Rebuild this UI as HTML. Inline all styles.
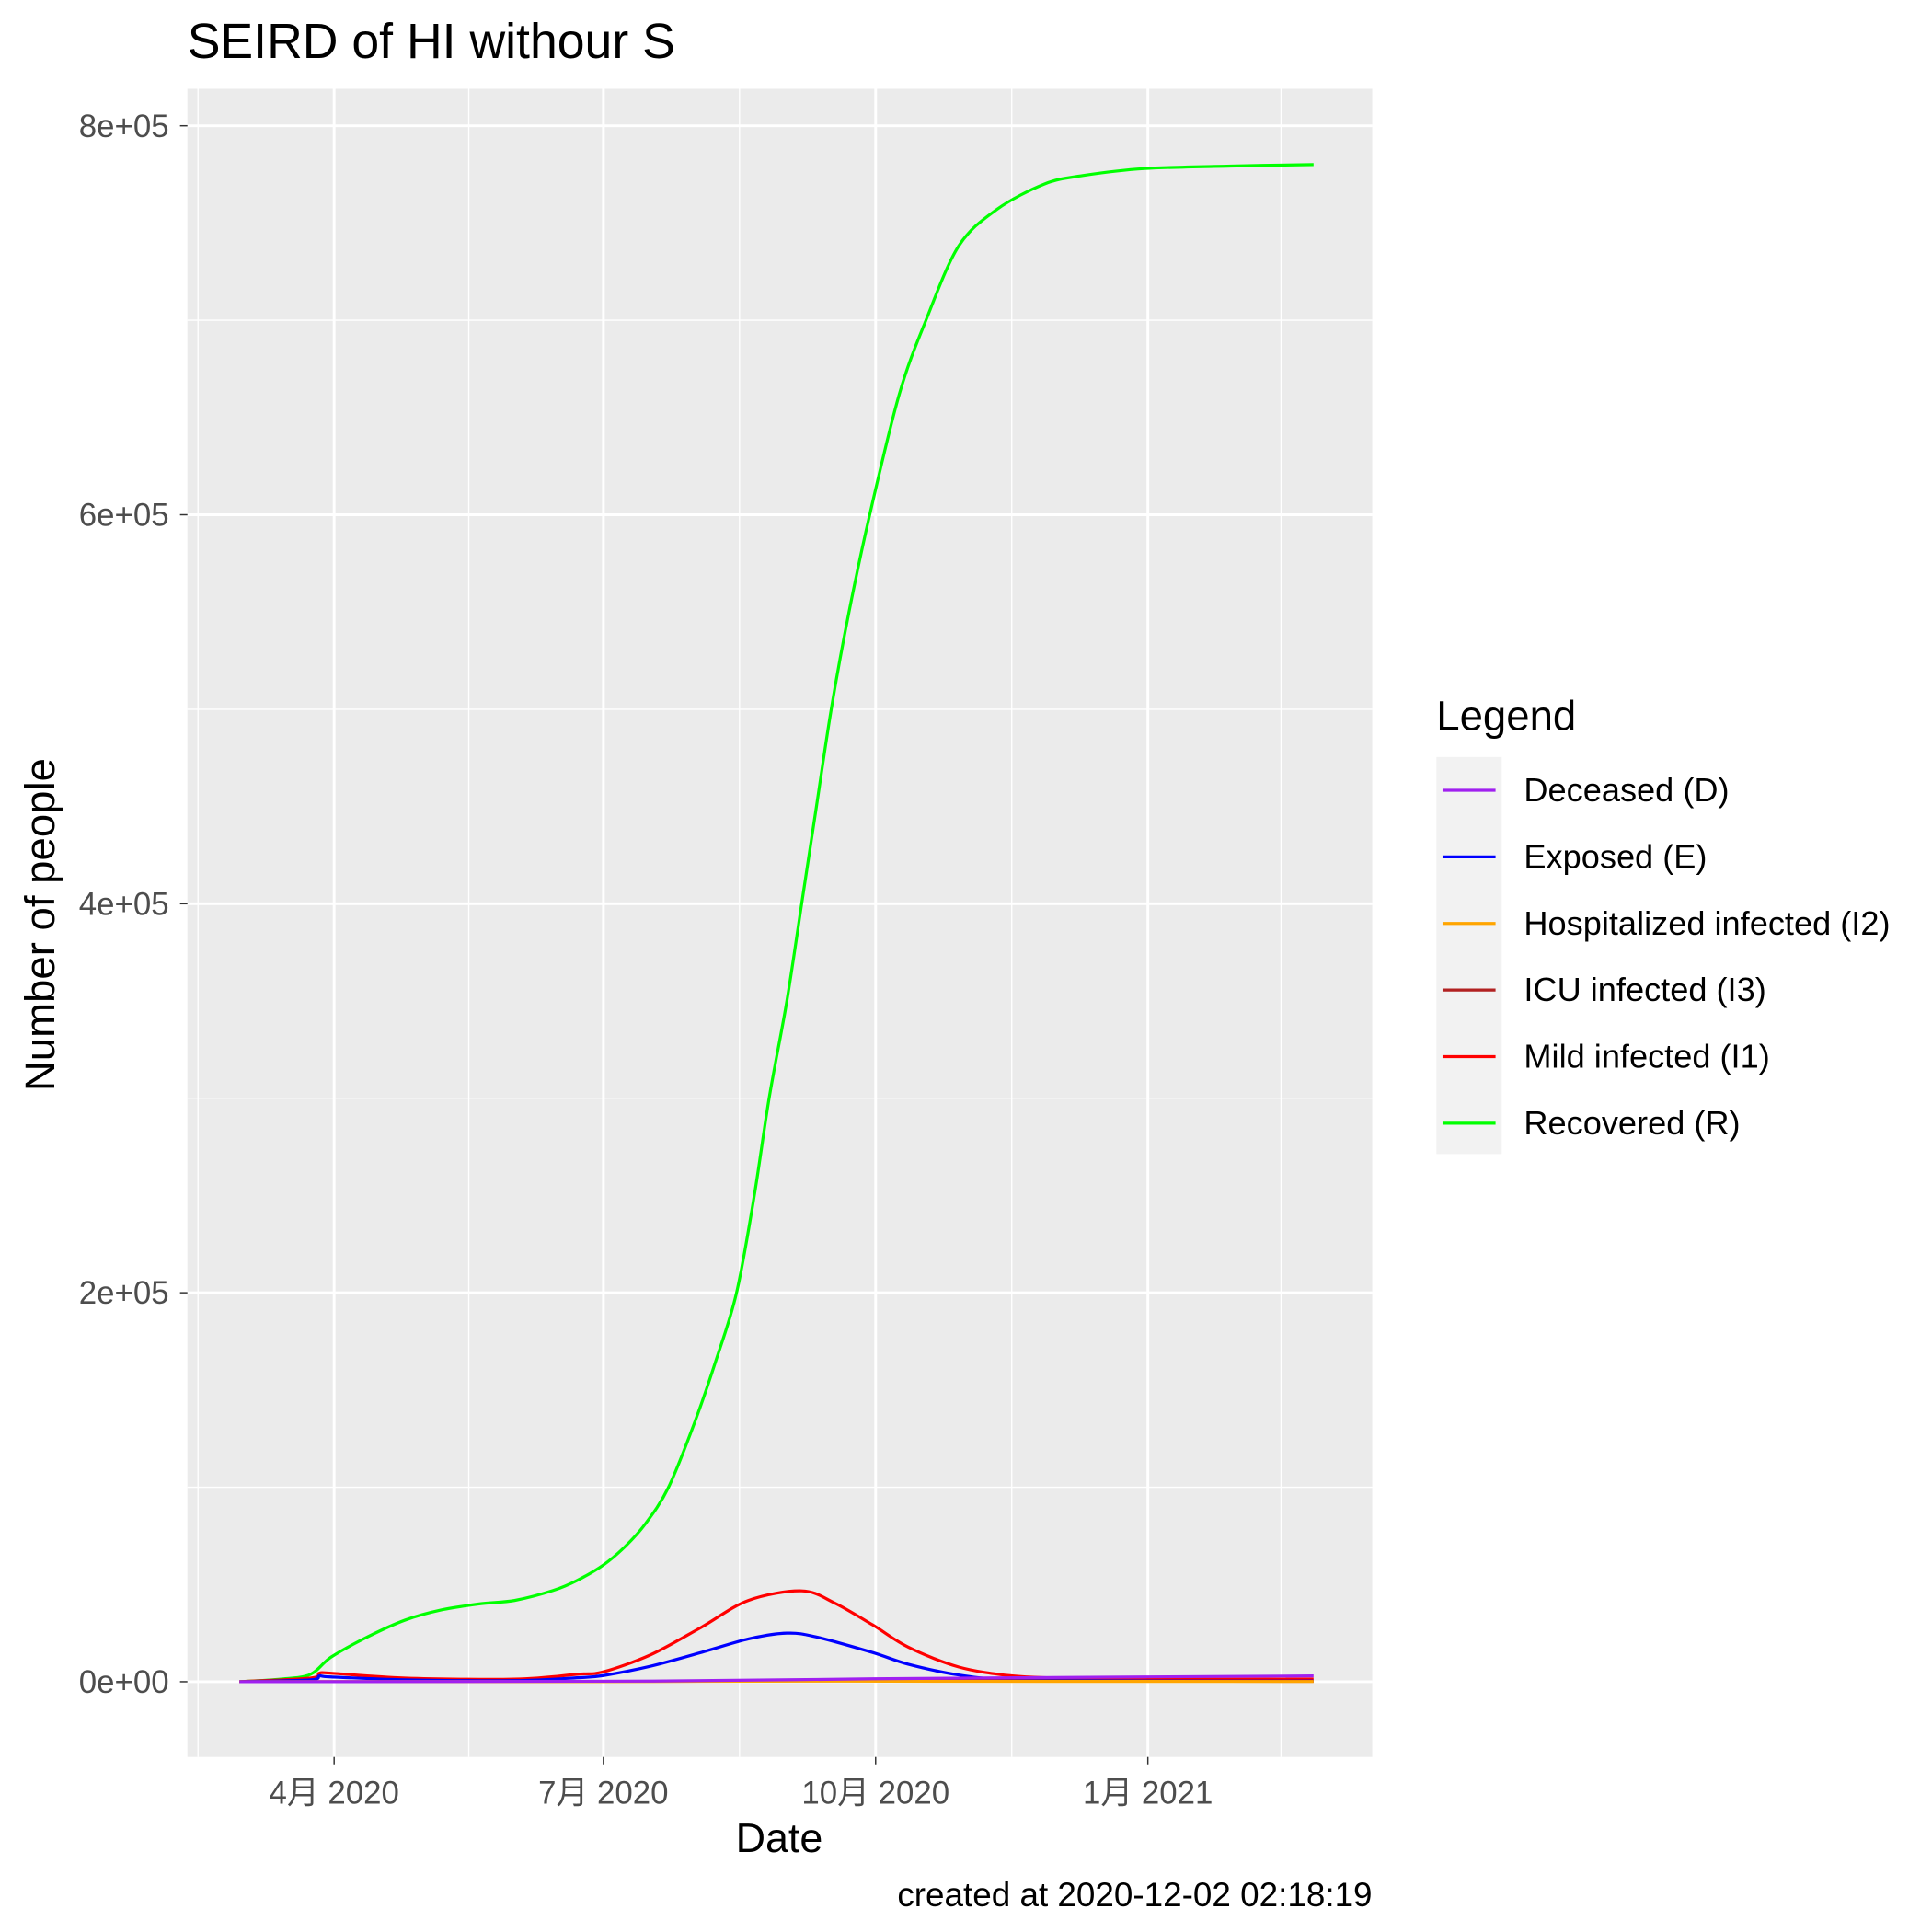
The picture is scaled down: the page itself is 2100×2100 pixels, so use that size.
<!DOCTYPE html>
<html><head><meta charset="utf-8"><style>
html,body{margin:0;padding:0;background:#fff}
svg{display:block}
text{font-family:"Liberation Sans","Noto Sans CJK JP",sans-serif}
</style></head><body>
<svg id="chart" xmlns="http://www.w3.org/2000/svg" width="2100" height="2100" viewBox="0 0 1567 1567">
<rect width="1567" height="1567" fill="#fff"/>
<text x="152" y="47" font-size="40" fill="#000">SEIRD of HI withour S</text>
<rect x="152" y="72" width="961" height="1353" fill="#ebebeb"/>
<g id="grid"></g>
<g id="series"></g>
<g id="axes"></g>
<text x="632" y="1502" font-size="33.5" text-anchor="middle">Date</text>
<text transform="translate(44,750) rotate(-90)" font-size="34" text-anchor="middle">Number of people</text>
<text x="1113" y="1546" font-size="27.5" text-anchor="end">created at 2020-12-02 02:18:19</text>
<g id="legend">
<text x="1165" y="592" font-size="34">Legend</text>
<rect x="1165" y="614" width="53" height="322" fill="#f2f2f2"/>
</g>
</svg>
<script>
const NS="http://www.w3.org/2000/svg";
// data (day of year 2020, day 1 = Jan 1 2020)
const yTicks=[0,200000,400000,600000,800000];
const yTickLabels=["0e+00","2e+05","4e+05","6e+05","8e+05"];
const xTickDays=[92,183,275,367];
const xTickLabels=["4月 2020","7月 2020","10月 2020","1月 2021"];
const seriesNames=["Deceased (D)","Exposed (E)","Hospitalized infected (I2)","ICU infected (I3)","Mild infected (I1)","Recovered (R)"];
const seriesColors=["#a020f0","#0000ff","#ffa500","#b22222","#ff0000","#00ff00"];
const dDays=[60,200,274,366,423];
const dVals=[0,300,1500,2500,3000];
const eDays=[60,84,87,91,116,153,174,183,199,216,232,245,255,274,286,303,320,366,423];
const eVals=[0,1000,3000,2500,1000,600,2000,3200,8000,15000,22000,25000,23000,15000,9000,3500,1200,500,300];
const hDays=[60,200,250,300,423];
const hVals=[0,100,300,200,100];
const iDays=[60,200,274,366,423];
const iVals=[0,200,500,300,200];
const mDays=[60,84,87,91,116,153,174,183,199,216,232,250,261,274,286,303,320,336,366,423];
const mVals=[0,1900,4400,4400,1900,1300,3800,5100,13900,27900,41800,46700,40600,29200,17800,7600,3200,1900,1300,1300];
const rDays=[60,74,84,91,103,116,128,141,153,166,174,183,190,197,205,214,221,228,234,239,245,250,255,260,266,273,283,292,303,316,332,345,366,395,423];
const rVals=[0,1300,3800,12700,22800,31700,36800,40000,41800,46900,52000,60000,69000,80800,100000,134000,165000,200000,250000,300000,350000,400000,450000,500000,550000,600000,662000,700000,738000,757000,770000,774400,778000,779300,780000];

const X=d=>271+(d-92)*(931-271)/(367-92);
const Y=v=>1364-v*(1364-102)/800000;
function el(tag,attrs,parent){const e=document.createElementNS(NS,tag);for(const k in attrs)e.setAttribute(k,attrs[k]);parent.appendChild(e);return e;}
function smoothPath(pts){
 let d='M'+pts[0][0].toFixed(1)+','+pts[0][1].toFixed(1);
 for(let i=0;i<pts.length-1;i++){
  const p0=pts[Math.max(0,i-1)],p1=pts[i],p2=pts[i+1],p3=pts[Math.min(pts.length-1,i+2)];
  const t=0.16;
  const c1=[p1[0]+(p2[0]-p0[0])*t,p1[1]+(p2[1]-p0[1])*t];
  const c2=[p2[0]-(p3[0]-p1[0])*t,p2[1]-(p3[1]-p1[1])*t];
  d+=' C'+c1[0].toFixed(1)+','+c1[1].toFixed(1)+' '+c2[0].toFixed(1)+','+c2[1].toFixed(1)+' '+p2[0].toFixed(1)+','+p2[1].toFixed(1);
 }
 return d;
}
const grid=document.getElementById('grid'),axes=document.getElementById('axes'),ser=document.getElementById('series'),leg=document.getElementById('legend');
for(let i=0;i<yTicks.length-1;i++){const v=(yTicks[i]+yTicks[i+1])/2;
 const l=el('line',{x1:152,x2:1113,y1:Y(v),y2:Y(v),stroke:'#fff','stroke-width':1},grid);
 }
const minorX=[xTickDays[0]-46,...xTickDays.map((d,i)=>i<xTickDays.length-1?(d+xTickDays[i+1])/2:d+45)];
minorX.forEach(d=>{const l=el('line',{x1:X(d),x2:X(d),y1:72,y2:1425,stroke:'#fff','stroke-width':1},grid);
 });
yTicks.forEach((v,i)=>{
 const l=el('line',{x1:152,x2:1113,y1:Y(v),y2:Y(v),stroke:'#fff','stroke-width':2.2},grid);
 
 const t=el('line',{x1:146,x2:152,y1:Y(v),y2:Y(v),stroke:'#333','stroke-width':1.1},axes);
 
 const tx=el('text',{x:137,y:Y(v)+9,'font-size':26,fill:'#4d4d4d','text-anchor':'end'},axes);
 tx.textContent=yTickLabels[i];
 
});
xTickDays.forEach((d,i)=>{
 const l=el('line',{x1:X(d),x2:X(d),y1:72,y2:1425,stroke:'#fff','stroke-width':2.2},grid);
 
 const t=el('line',{x1:X(d),x2:X(d),y1:1425,y2:1431,stroke:'#333','stroke-width':1.1},axes);
 
 const tx=el('text',{x:X(d),y:1463,'font-size':26,fill:'#4d4d4d','text-anchor':'middle'},axes);
 tx.textContent=xTickLabels[i];
 
});
const data=[[dDays,dVals],[eDays,eVals],[hDays,hVals],[iDays,iVals],[mDays,mVals],[rDays,rVals]];
const order=[5,4,1,3,2,0];
order.forEach(k=>{const [ds,vs]=data[k];
 const p=el('path',{d:smoothPath(ds.map((d,i)=>[X(d),Y(vs[i])])),fill:'none',stroke:seriesColors[k],'stroke-width':2.4,'stroke-linejoin':'round'},ser);
 
 
});
seriesNames.forEach((n,i)=>{const y=641+i*54;
 const l=el('line',{x1:1170,x2:1213,y1:y,y2:y,stroke:seriesColors[i],'stroke-width':2.4},leg);
 
 const t=el('text',{x:1236,y:y+9,'font-size':27},leg);t.textContent=n;
 
});
</script>
</body></html>
